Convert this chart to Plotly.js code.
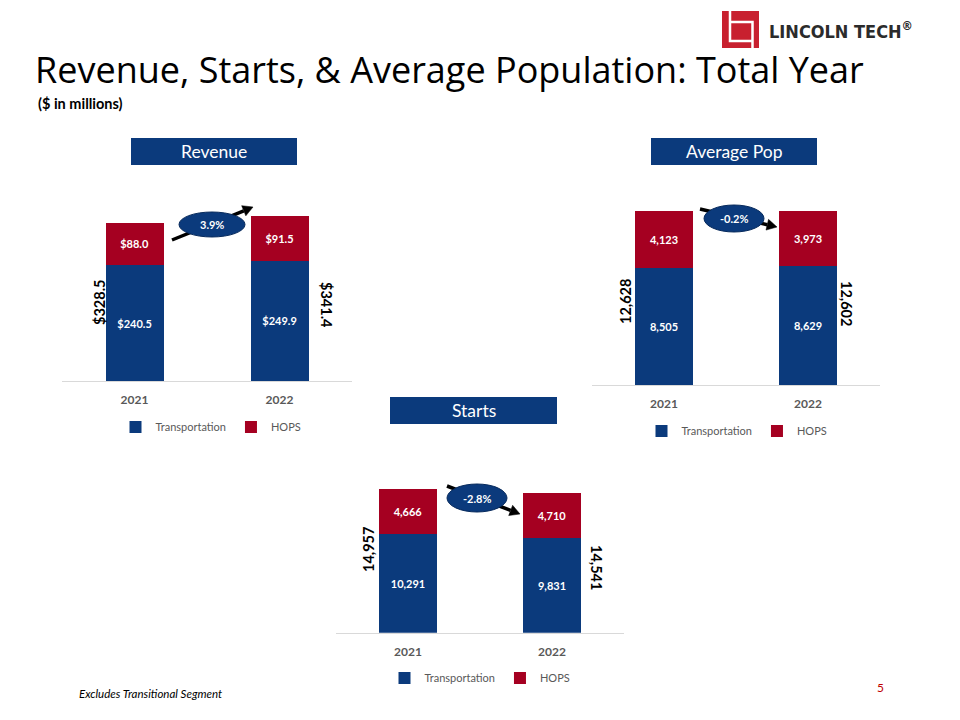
<!DOCTYPE html>
<html>
<head>
<meta charset="utf-8">
<script src="https://cdn.plot.ly/plotly-3.0.1.min.js"></script>
<style>html,body{margin:0;padding:0;background:#fff;}#chart{width:960px;height:720px;}</style>
</head>
<body>
<div id="chart"></div>
<script>
// ---- data ----
const categories = ['2021', '2022'];
const seriesNames = ['Transportation', 'HOPS'];
const revenueTransportation = [240.5, 249.9];
const revenueHops = [88.0, 91.5];
const popTransportation = [8505, 8629];
const popHops = [4123, 3973];
const startsTransportation = [10291, 9831];
const startsHops = [4666, 4710];
const panelTitles = ['Revenue', 'Average Pop', 'Starts'];

// ---- styles ----
const BLUE = '#0B3A7C';
const RED = '#A50021';
const FONT = 'Lato, "Open Sans", sans-serif';
const TITLEFONT = '"Open Sans", "Noto Sans", sans-serif';

const W = 960, H = 720;
const P = x => x / W;
const Q = y => 1 - y / H;

const sum = (a, b) => a.map((v, i) => v + b[i]);
const revTot = sum(revenueTransportation, revenueHops);
const popTot = sum(popTransportation, popHops);
const stTot = sum(startsTransportation, startsHops);
const pct = t => { const v = (t[1] / t[0] - 1) * 100; return v.toFixed(1) + '%'; };
const fmtInt = v => v.toLocaleString('en-US');
const fmtMoney = v => '$' + v.toFixed(1);

function barPair(trans, hops, xa, ya, leg, fmt) {
  const common = {
    type: 'bar', x: categories, xaxis: xa, yaxis: ya, legend: leg,
    textposition: 'inside', insidetextanchor: 'middle', textangle: 0,
    textfont: {family: FONT, size: 11, color: '#ffffff', weight: 'bold'},
    hoverinfo: 'skip', cliponaxis: false
  };
  return [
    Object.assign({}, common, {name: seriesNames[0], y: trans, text: trans.map(fmt), marker: {color: BLUE}}),
    Object.assign({}, common, {name: seriesNames[1], y: hops, text: hops.map(fmt), marker: {color: RED}})
  ];
}

const data = [].concat(
  barPair(revenueTransportation, revenueHops, 'x', 'y', 'legend', fmtMoney),
  barPair(popTransportation, popHops, 'x2', 'y2', 'legend2', fmtInt),
  barPair(startsTransportation, startsHops, 'x3', 'y3', 'legend3', fmtInt)
);

function xax(x0, x1, anchor) {
  return {domain: [P(x0), P(x1)], anchor: anchor, type: 'category', range: [-0.5, 1.5],
    showline: true, linecolor: '#D9D9D9', linewidth: 1, showgrid: false, zeroline: false,
    ticks: '', ticklabelstandoff: 8, fixedrange: true,
    tickfont: {family: FONT, size: 12, color: '#595959', weight: 'bold'}};
}
function yax(top, base, pxPerUnit, anchor) {
  return {domain: [Q(base), Q(top)], anchor: anchor, range: [0, (base - top) / pxPerUnit],
    visible: false, showgrid: false, zeroline: false, fixedrange: true};
}

function legendAt(cx, cy) {
  return {orientation: 'h', x: P(cx), y: Q(cy), xanchor: 'center', yanchor: 'middle',
    traceorder: 'normal', font: {family: FONT, size: 11, color: '#595959'},
    bgcolor: 'rgba(0,0,0,0)', itemclick: false, itemdoubleclick: false};
}

const shapes = [];
const annotations = [];

function header(x0, y0, x1, y1, txt) {
  shapes.push({type: 'rect', xref: 'paper', yref: 'paper', x0: P(x0), x1: P(x1), y0: Q(y1), y1: Q(y0),
    fillcolor: BLUE, line: {width: 0}});
  annotations.push({xref: 'paper', yref: 'paper', x: P((x0 + x1) / 2), y: Q((y0 + y1) / 2),
    xanchor: 'center', yanchor: 'middle', showarrow: false, text: txt,
    font: {family: FONT, size: 17.5, color: '#ffffff'}});
}

function arrowWithBubble(tx, ty, hx, hy, ex0, ey0, ex1, ey1, txt) {
  const dx = hx - tx, dy = hy - ty, len = Math.hypot(dx, dy);
  const ux = dx / len, uy = dy / len;
  const L = 10, Wd = 5.5;
  const bx = hx - ux * L, by = hy - uy * L;
  const nx = -uy, ny = ux;
  shapes.push({type: 'line', xref: 'paper', yref: 'paper', x0: P(tx), y0: Q(ty), x1: P(bx), y1: Q(by),
    line: {color: '#000000', width: 3.5}});
  const pts = [[hx, hy], [bx + nx * Wd, by + ny * Wd], [bx - nx * Wd, by - ny * Wd]];
  shapes.push({type: 'path', xref: 'paper', yref: 'paper',
    path: 'M' + pts.map(p => P(p[0]) + ',' + Q(p[1])).join(' L') + ' Z',
    fillcolor: '#000000', line: {color: '#000000', width: 0.5}});
  shapes.push({type: 'circle', xref: 'paper', yref: 'paper', x0: P(ex0), x1: P(ex1), y0: Q(ey1), y1: Q(ey0),
    fillcolor: BLUE, line: {color: '#072a5c', width: 1}});
  annotations.push({xref: 'paper', yref: 'paper', x: P((ex0 + ex1) / 2), y: Q((ey0 + ey1) / 2),
    xanchor: 'center', yanchor: 'middle', showarrow: false, text: txt,
    font: {family: FONT, size: 11, color: '#ffffff', weight: 'bold'}});
}

function total(x, y, txt, angle) {
  annotations.push({xref: 'paper', yref: 'paper', x: P(x), y: Q(y), xanchor: 'center', yanchor: 'middle',
    showarrow: false, text: txt, textangle: angle,
    font: {family: FONT, size: 14.5, color: '#000000', weight: 'bold'}});
}

// headers
header(131, 138, 297, 165, panelTitles[0]);
header(651, 138, 817, 165, panelTitles[1]);
header(390, 397, 557, 424, panelTitles[2]);

// arrows & change bubbles
arrowWithBubble(172, 240, 253, 207, 179, 212, 245, 237, pct(revTot));
arrowWithBubble(700, 209, 777, 227, 704, 205, 764, 232, pct(popTot));
arrowWithBubble(447, 486, 520, 514, 447, 484, 507, 512, pct(stTot));

// totals
total(99, 302, fmtMoney(revTot[0]), -90);
total(327, 305, fmtMoney(revTot[1]), 90);
total(625, 302, fmtInt(popTot[0]), -90);
total(847, 303, fmtInt(popTot[1]), 90);
total(368, 550, fmtInt(stTot[0]), -90);
total(597, 567, fmtInt(stTot[1]), 90);

// logo
shapes.push({type: 'rect', xref: 'paper', yref: 'paper', x0: P(722), x1: P(759), y0: Q(48), y1: Q(11),
  fillcolor: '#C8202F', line: {width: 0}});
shapes.push({type: 'path', xref: 'paper', yref: 'paper',
  path: 'M' + P(730) + ',' + Q(11) + ' L' + P(730) + ',' + Q(41) + ' L' + P(752.5) + ',' + Q(41),
  line: {color: '#ffffff', width: 2.5}});
shapes.push({type: 'path', xref: 'paper', yref: 'paper',
  path: 'M' + P(730) + ',' + Q(22) + ' L' + P(752.5) + ',' + Q(22) + ' L' + P(752.5) + ',' + Q(48),
  line: {color: '#ffffff', width: 2.5}});
annotations.push({xref: 'paper', yref: 'paper', x: P(767), y: Q(30), xanchor: 'left', yanchor: 'middle',
  showarrow: false, text: 'LINCOLN TECH<sup>®</sup>',
  font: {family: '"Liberation Sans Narrow", "DejaVu Sans Condensed", sans-serif', size: 18, color: '#2B2B2B', weight: 'bold'}});

// subtitle, footer, page number
annotations.push({xref: 'paper', yref: 'paper', x: P(36), y: Q(104), xanchor: 'left', yanchor: 'middle',
  showarrow: false, text: '($ in millions)', font: {family: FONT, size: 14.5, color: '#000000', weight: 'bold'}});
annotations.push({xref: 'paper', yref: 'paper', x: P(77), y: Q(693), xanchor: 'left', yanchor: 'middle',
  showarrow: false, text: '<i>Excludes Transitional Segment</i>', font: {family: FONT, size: 11.5, color: '#000000'}});
annotations.push({xref: 'paper', yref: 'paper', x: P(880), y: Q(687), xanchor: 'center', yanchor: 'middle',
  showarrow: false, text: '5', font: {family: FONT, size: 12, color: '#C00000'}});

const layout = {
  width: W, height: H, margin: {l: 0, r: 0, t: 0, b: 0},
  paper_bgcolor: '#ffffff', plot_bgcolor: '#ffffff',
  title: {text: 'Revenue, Starts, & Average Population: Total Year', x: P(35), xanchor: 'left',
    y: Q(70), yanchor: 'middle', font: {family: TITLEFONT, size: 36, color: '#000000'}},
  barmode: 'stack', bargap: 0.6,
  showlegend: true,
  xaxis: xax(62, 352, 'y'), yaxis: yax(170, 381, 158.3 / 328.5, 'x'),
  xaxis2: xax(592, 880, 'y2'), yaxis2: yax(170, 385, 174 / 12628, 'x2'),
  xaxis3: xax(336, 624, 'y3'), yaxis3: yax(440, 632.7, 143.7 / 14957, 'x3'),
  legend: legendAt(211, 427), legend2: legendAt(737, 431), legend3: legendAt(480, 678),
  shapes: shapes, annotations: annotations,
  hovermode: false
};

Plotly.newPlot('chart', data, layout, {displayModeBar: false, staticPlot: true});
</script>
</body>
</html>
